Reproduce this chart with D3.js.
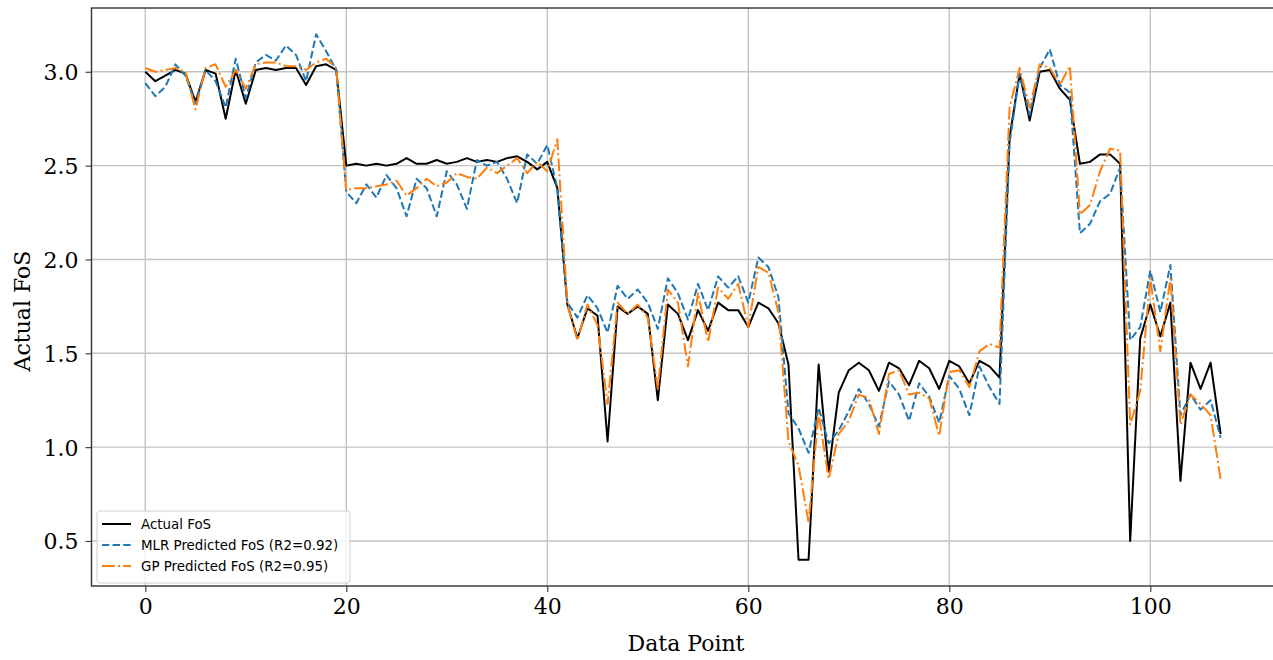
<!DOCTYPE html>
<html>
<head>
<meta charset="utf-8">
<title>Actual vs predicted FoS</title>
<script src="https://cdn.jsdelivr.net/npm/d3@7"></script>
<style>
  body { margin: 0; background: #fff; }
  .tick text { font-family: "DejaVu Serif", serif; font-size: 22px; fill: #000; }
  .axislabel { font-family: "DejaVu Serif", serif; font-size: 22px; fill: #000; }
  .legendtext { font-family: "DejaVu Sans", sans-serif; font-size: 13.4px; fill: #000; }
</style>
</head>
<body>
<div id="chartdiv"></div>
<script>
// values, one per data point (0..107)
var actualFoS = [
  3.00, 2.95, 2.98, 3.01, 2.99, 2.84, 3.01, 2.99, 2.75, 3.01,
  2.83, 3.01, 3.02, 3.01, 3.02, 3.02, 2.93, 3.03, 3.04, 3.01,
  2.50, 2.51, 2.50, 2.51, 2.50, 2.51, 2.54, 2.51, 2.51, 2.53,
  2.51, 2.52, 2.54, 2.52, 2.53, 2.52, 2.54, 2.55, 2.52, 2.48,
  2.52, 2.38, 1.76, 1.58, 1.74, 1.70, 1.03, 1.75, 1.71, 1.75,
  1.71, 1.25, 1.76, 1.71, 1.57, 1.73, 1.62, 1.77, 1.73, 1.73,
  1.64, 1.77, 1.74, 1.66, 1.44, 0.40, 0.40, 1.44, 0.87, 1.29,
  1.41, 1.45, 1.41, 1.30, 1.45, 1.42, 1.33, 1.46, 1.42, 1.31,
  1.46, 1.43, 1.34, 1.46, 1.43, 1.37, 2.65, 2.99, 2.74, 3.00,
  3.01, 2.91, 2.85, 2.51, 2.52, 2.56, 2.56, 2.51, 0.50, 1.58,
  1.76, 1.59, 1.77, 0.82, 1.45, 1.31, 1.45, 1.07
];

var mlrFoS = [
  2.94, 2.87, 2.92, 3.04, 2.98, 2.83, 3.01, 2.95, 2.81, 3.07,
  2.86, 3.05, 3.09, 3.06, 3.14, 3.09, 2.95, 3.20, 3.11, 3.01,
  2.36, 2.30, 2.40, 2.33, 2.45, 2.38, 2.23, 2.43, 2.38, 2.23,
  2.47, 2.40, 2.27, 2.53, 2.50, 2.52, 2.43, 2.30, 2.56, 2.51,
  2.61, 2.38, 1.77, 1.69, 1.81, 1.74, 1.61, 1.86, 1.79, 1.84,
  1.77, 1.63, 1.90, 1.82, 1.68, 1.87, 1.73, 1.91, 1.85, 1.91,
  1.77, 2.01, 1.96, 1.80, 1.18, 1.10, 0.97, 1.21, 1.02, 1.09,
  1.19, 1.31, 1.23, 1.11, 1.35, 1.28, 1.14, 1.34, 1.27, 1.13,
  1.38, 1.31, 1.17, 1.43, 1.32, 1.23, 2.62, 2.99, 2.77, 3.02,
  3.12, 2.93, 2.89, 2.14, 2.19, 2.31, 2.35, 2.49, 1.57, 1.64,
  1.94, 1.72, 1.97, 1.17, 1.28, 1.20, 1.25, 1.05
];

var gpFoS = [
  3.02, 3.00, 3.01, 3.02, 3.00, 2.80, 3.02, 3.04, 2.92, 3.01,
  2.91, 3.04, 3.05, 3.05, 3.03, 3.03, 3.01, 3.05, 3.07, 3.02,
  2.37, 2.38, 2.38, 2.39, 2.40, 2.42, 2.34, 2.38, 2.43, 2.39,
  2.41, 2.46, 2.44, 2.43, 2.49, 2.46, 2.50, 2.54, 2.46, 2.52,
  2.47, 2.64, 1.76, 1.57, 1.76, 1.65, 1.23, 1.77, 1.71, 1.76,
  1.69, 1.31, 1.84, 1.77, 1.43, 1.82, 1.56, 1.85, 1.79, 1.87,
  1.64, 1.96, 1.93, 1.72, 1.03, 0.90, 0.60, 1.18, 0.83, 1.07,
  1.14, 1.28, 1.26, 1.07, 1.39, 1.41, 1.28, 1.29, 1.26, 1.06,
  1.40, 1.41, 1.32, 1.51, 1.55, 1.53, 2.81, 3.02, 2.81, 3.04,
  3.02, 2.93, 3.03, 2.24, 2.29, 2.47, 2.59, 2.58, 1.12, 1.30,
  1.90, 1.51, 1.90, 1.12, 1.28, 1.23, 1.17, 0.83
];

var xTicks = [0, 20, 40, 60, 80, 100];
var yTicks = [0.5, 1.0, 1.5, 2.0, 2.5, 3.0];
var seriesNames = ["Actual FoS", "MLR Predicted FoS (R2=0.92)", "GP Predicted FoS (R2=0.95)"];

// series table built from the arrays above
var series = [
  { name: seriesNames[0], values: actualFoS, color: "#000000", dash: null },
  { name: seriesNames[1], values: mlrFoS, color: "#1f77b4", dash: "7.4,3.2" },
  { name: seriesNames[2], values: gpFoS, color: "#ff7f0e", dash: "12.8,3.2,2,3.2" }
];

var W = 1273, H = 660;
// plot box in page pixels (right edge runs just past the picture like in the original)
// note: "top" is taken by window.top, so use plotTop etc.
var plotLeft = 91.5, plotRight = 1274.4, plotTop = 8, plotBottom = 586;

var svg = d3.select("#chartdiv")
  .append("svg")
  .attr("width", W)
  .attr("height", H);

var x = d3.scaleLinear().domain([-5.35, 112.35]).range([plotLeft, plotRight]);
var y = d3.scaleLinear().domain([0.26, 3.34]).range([plotBottom, plotTop]);

// grid lines
svg.append("g")
  .selectAll("line")
  .data(xTicks)
  .enter().append("line")
  .attr("x1", function(d) { return x(d); })
  .attr("x2", function(d) { return x(d); })
  .attr("y1", plotTop)
  .attr("y2", plotBottom)
  .attr("stroke", "#c4c4c4")
  .attr("stroke-width", 1.4);

svg.append("g")
  .selectAll("line")
  .data(yTicks)
  .enter().append("line")
  .attr("x1", plotLeft)
  .attr("x2", plotRight)
  .attr("y1", function(d) { return y(d); })
  .attr("y2", function(d) { return y(d); })
  .attr("stroke", "#c4c4c4")
  .attr("stroke-width", 1.4);

// axes
var xAxis = svg.append("g")
  .attr("transform", "translate(0," + plotBottom + ")")
  .call(d3.axisBottom(x).tickValues(xTicks).tickSize(6).tickPadding(6).tickFormat(d3.format("d")));

var yAxis = svg.append("g")
  .attr("transform", "translate(" + plotLeft + ",0)")
  .call(d3.axisLeft(y).tickValues(yTicks).tickSize(6).tickPadding(7).tickFormat(d3.format(".1f")));

[xAxis, yAxis].forEach(function(a) {
  a.select(".domain").remove();
  a.selectAll(".tick line").attr("stroke", "#444").attr("stroke-width", 1.2);
});
yAxis.selectAll(".tick text").attr("dy", "0.36em");

// the lines
var line = d3.line()
  .x(function(d, i) { return x(i); })
  .y(function(d) { return y(d); });

svg.append("g")
  .selectAll("path")
  .data(series)
  .enter().append("path")
  .attr("d", function(d) { return line(d.values); })
  .attr("fill", "none")
  .attr("stroke", function(d) { return d.color; })
  .attr("stroke-width", 2)
  .attr("stroke-linejoin", "round")
  .attr("stroke-dasharray", function(d) { return d.dash; });

// frame
svg.append("rect")
  .attr("x", plotLeft)
  .attr("y", plotTop)
  .attr("width", plotRight - plotLeft)
  .attr("height", plotBottom - plotTop)
  .attr("fill", "none")
  .attr("stroke", "#333")
  .attr("stroke-width", 1.4);

// axis titles
svg.append("text")
  .attr("class", "axislabel")
  .attr("x", 686)
  .attr("y", 651)
  .attr("text-anchor", "middle")
  .text("Data Point");

svg.append("text")
  .attr("class", "axislabel")
  .attr("transform", "translate(30," + ((plotTop + plotBottom) / 2 + 14) + ")rotate(-90)")
  .attr("text-anchor", "middle")
  .text("Actual FoS");

// legend, bottom left
var legend = svg.append("g").attr("transform", "translate(97,511)");

legend.append("rect")
  .attr("width", 253)
  .attr("height", 72)
  .attr("rx", 3)
  .attr("fill", "#fff")
  .attr("fill-opacity", 0.8)
  .attr("stroke", "#d0d0d0")
  .attr("stroke-width", 1);

var rows = legend.selectAll(".row")
  .data(series)
  .enter().append("g")
  .attr("transform", function(d, i) { return "translate(0," + (13 + i * 21) + ")"; });

rows.append("line")
  .attr("x1", 5)
  .attr("x2", 34)
  .attr("stroke", function(d) { return d.color; })
  .attr("stroke-width", 2)
  .attr("stroke-dasharray", function(d) { return d.dash; });

rows.append("text")
  .attr("class", "legendtext")
  .attr("x", 44)
  .attr("dy", "0.35em")
  .text(function(d) { return d.name; });
</script>
</body>
</html>
